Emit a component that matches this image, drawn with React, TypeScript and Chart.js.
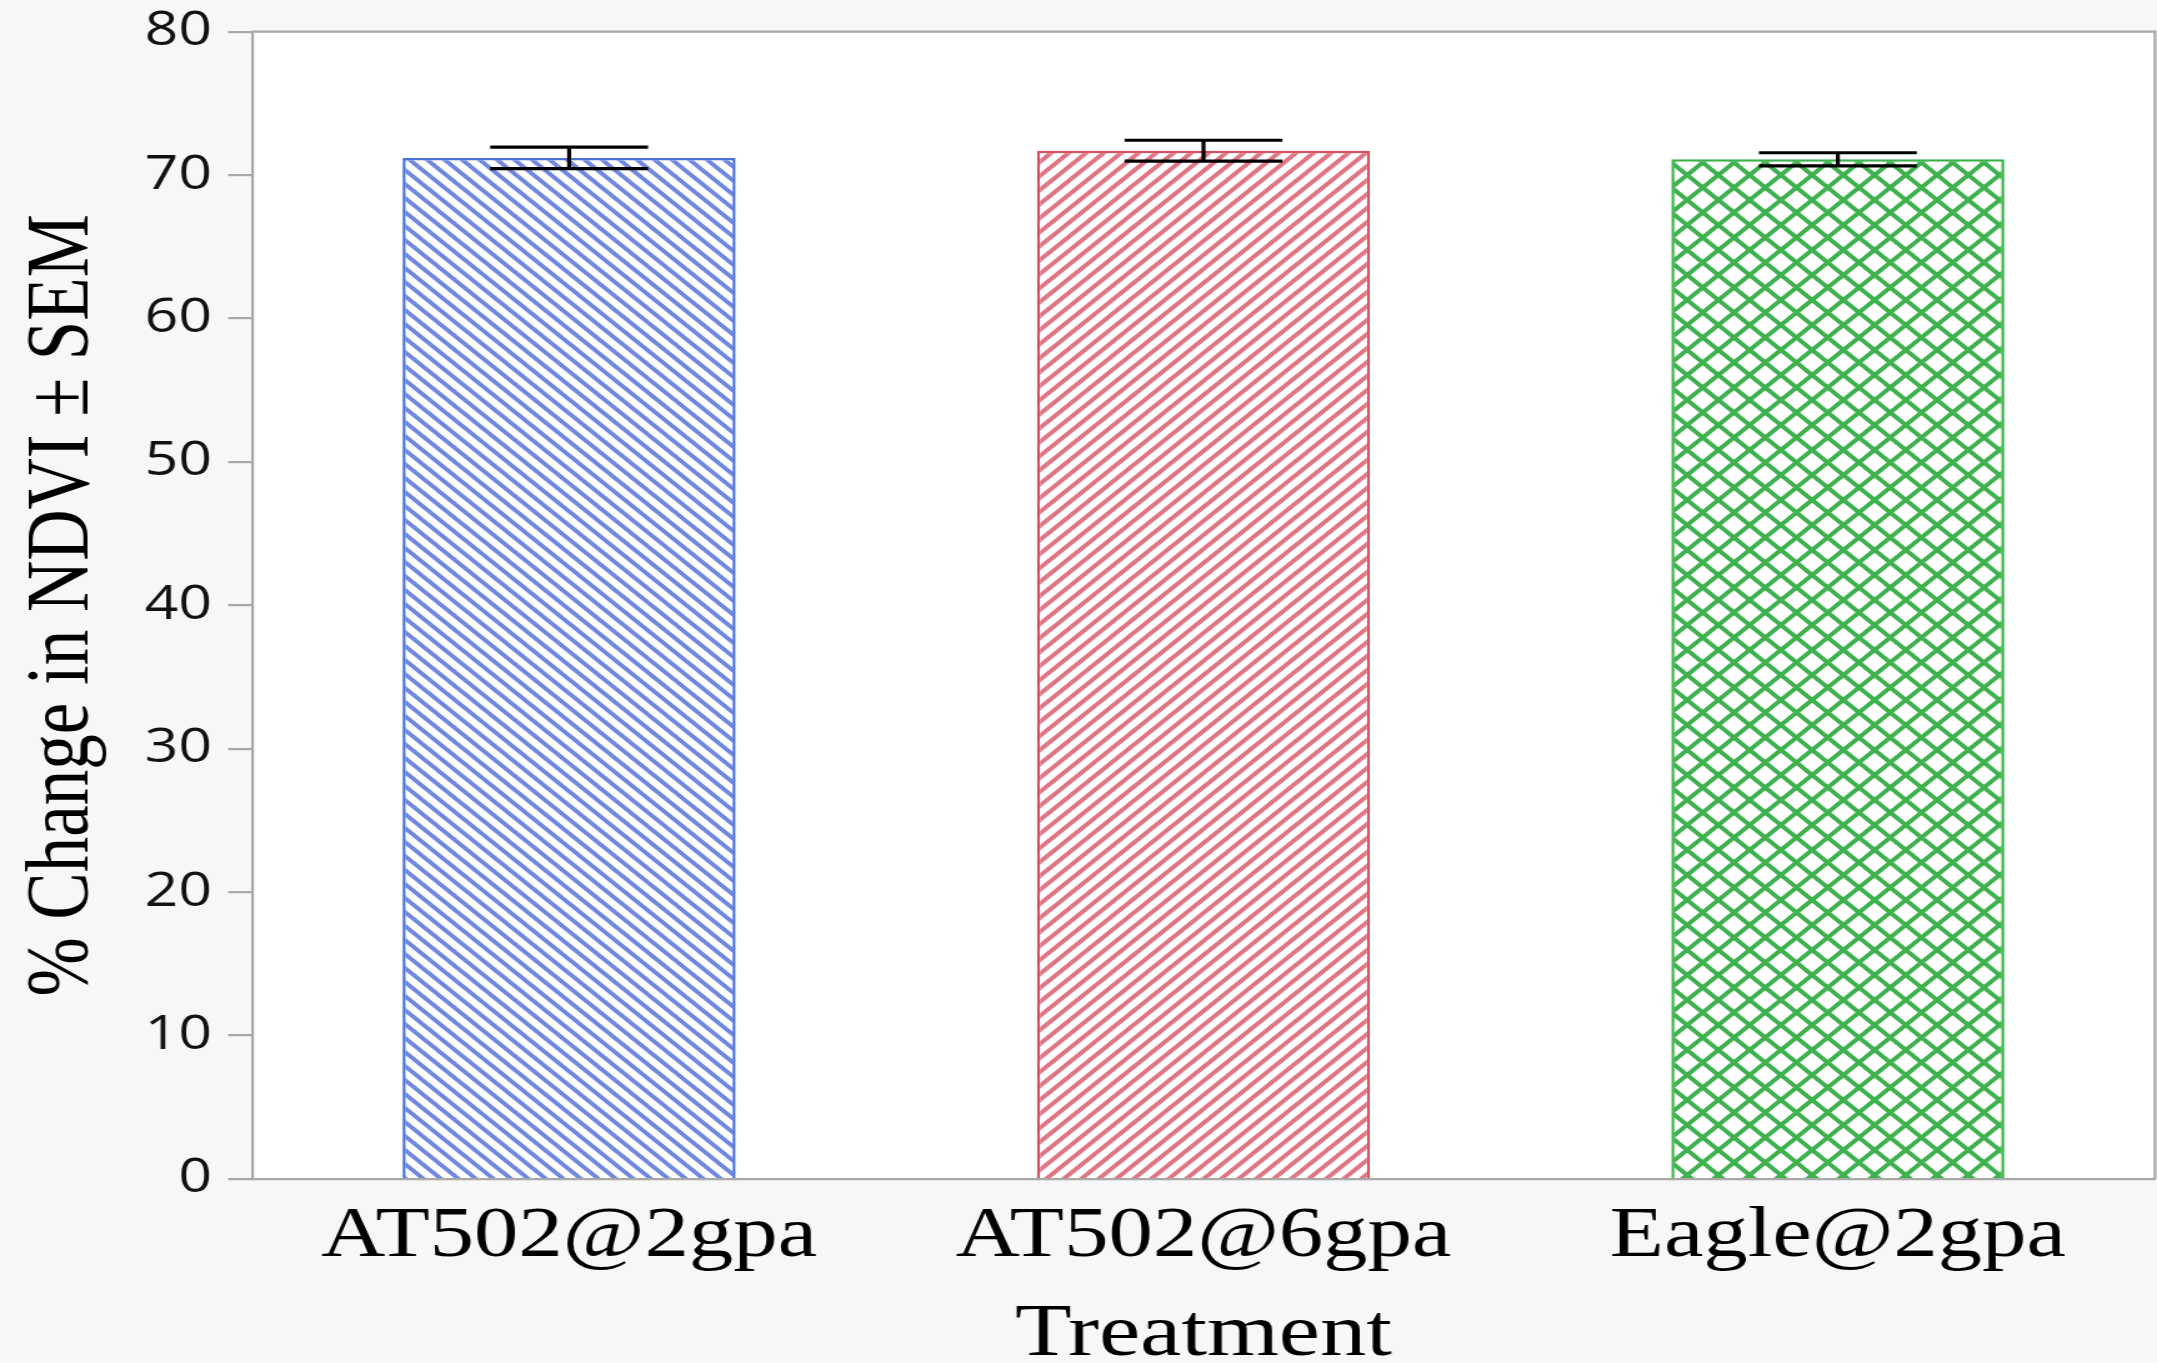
import React, { useEffect, useRef } from 'react';
import { Chart, registerables } from 'chart.js';

Chart.register(...registerables);

// ---- data ----
const categories = ['AT502@2gpa', 'AT502@6gpa', 'Eagle@2gpa'];
const meanChange = [71.2, 71.7, 71.1];
const semValues = [0.75, 0.73, 0.46];
const yMin = 0;
const yMax = 80;
const yStep = 10;
const yAxisTitle = '% Change in NDVI ± SEM';
const xAxisTitle = 'Treatment';

// ---- styles ----
const borderColors = ['#4a72d8', '#d6505f', '#3cb34a'];
const hatchColors = ['#7088e0', '#e07684', '#3fb24f'];
const hatchKinds = ['back', 'fwd', 'cross'];
const hatchPeriods = [14, 14, 25];
const hatchWidths = [3.8, 4, 4];

const FULL_W = 2157;
const FULL_H = 1363;
const INNER_W = 1726;
const SX = FULL_W / INNER_W;
const AXIS_GRAY = '#a8a8a8';

function makeHatch(kind: string, color: string, P: number, w: number) {
  const c = document.createElement('canvas');
  c.width = P;
  c.height = P;
  const g = c.getContext('2d') as CanvasRenderingContext2D;
  g.fillStyle = '#ffffff';
  g.fillRect(0, 0, P, P);
  g.strokeStyle = color;
  g.lineWidth = w;
  g.beginPath();
  if (kind === 'back' || kind === 'cross') {
    for (let k = -1; k <= 1; k++) {
      g.moveTo(-2, -2 + k * P);
      g.lineTo(P + 2, P + 2 + k * P);
    }
  }
  if (kind === 'fwd' || kind === 'cross') {
    for (let k = 0; k <= 2; k++) {
      g.moveTo(-2, k * P + 2);
      g.lineTo(P + 2, k * P - P - 2);
    }
  }
  g.stroke();
  return g.createPattern(c, 'repeat') as CanvasPattern;
}

const framePlugin = {
  id: 'frameAndErrors',
  beforeDraw(chart: any) {
    const { ctx, chartArea: a } = chart;
    ctx.save();
    ctx.fillStyle = '#ffffff';
    ctx.fillRect(a.left, a.top, a.right - a.left, a.bottom - a.top);
    ctx.restore();
  },
  afterDatasetsDraw(chart: any) {
    const { ctx } = chart;
    const yScale = chart.scales.y;
    const meta = chart.getDatasetMeta(0);
    ctx.save();
    ctx.strokeStyle = '#000000';
    ctx.lineWidth = 3.2;
    meta.data.forEach((bar: any, i: number) => {
      const { x, width } = bar.getProps(['x', 'width'], true);
      const top = yScale.getPixelForValue(meanChange[i] + semValues[i]);
      const bot = yScale.getPixelForValue(meanChange[i] - semValues[i]);
      const hw = width * 0.237;
      ctx.beginPath();
      ctx.moveTo(x - hw, top);
      ctx.lineTo(x + hw, top);
      ctx.moveTo(x - hw, bot);
      ctx.lineTo(x + hw, bot);
      ctx.moveTo(x, top);
      ctx.lineTo(x, bot);
      ctx.stroke();
    });
    ctx.restore();
  },
  afterDraw(chart: any) {
    const { ctx, chartArea: a } = chart;
    ctx.save();
    ctx.strokeStyle = AXIS_GRAY;
    ctx.lineWidth = 2.2;
    ctx.beginPath();
    ctx.moveTo(a.left, a.top);
    ctx.lineTo(a.right, a.top);
    ctx.lineTo(a.right, a.bottom);
    ctx.stroke();
    ctx.restore();
  },
};

export default function App() {
  const canvasRef = useRef<HTMLCanvasElement | null>(null);

  useEffect(() => {
    const canvas = canvasRef.current;
    if (!canvas) return;
    const patterns = categories.map((_, i) =>
      makeHatch(hatchKinds[i], hatchColors[i], hatchPeriods[i], hatchWidths[i])
    );
    const chart = new Chart(canvas, {
      type: 'bar',
      data: {
        labels: categories,
        datasets: [
          {
            data: meanChange,
            backgroundColor: patterns,
            borderColor: borderColors,
            borderWidth: 2.5,
            barPercentage: 0.525,
            categoryPercentage: 1,
          },
        ],
      },
      options: {
        responsive: false,
        animation: false,
        devicePixelRatio: 1,
        layout: { padding: { top: 31.7, right: 1.6, left: 0, bottom: 0 } },
        plugins: {
          legend: { display: false },
          tooltip: { enabled: false },
        },
        scales: {
          x: {
            z: 1,
            ticks: {
              color: '#000000',
              font: { family: '"Liberation Serif", serif', size: 71 },
              padding: 16,
            },
            grid: { display: false, drawTicks: false },
            border: { display: true, color: AXIS_GRAY, width: 2.2 },
            title: {
              display: true,
              text: xAxisTitle,
              color: '#000000',
              font: { family: '"Liberation Serif", serif', size: 74, lineHeight: 0.8 },
              padding: { top: 0, bottom: -2 },
            },
            afterFit(scale: any) {
              scale.height = 184;
            },
          },
          y: {
            min: yMin,
            max: yMax,
            ticks: {
              stepSize: yStep,
              color: '#111111',
              font: { family: '"Open Sans", sans-serif', size: 47, lineHeight: 0.6 },
              padding: 13,
            },
            grid: {
              drawOnChartArea: false,
              drawTicks: true,
              tickLength: 19,
              color: AXIS_GRAY,
              lineWidth: 2.2,
            },
            border: { display: true, color: AXIS_GRAY, width: 2.2 },
            title: {
              display: true,
              text: yAxisTitle,
              color: '#000000',
              font: { family: '"Liberation Serif", serif', size: 71, lineHeight: 1.2 },
              padding: { top: 9, bottom: 0 },
            },
            afterFit(scale: any) {
              scale.width = 201.6;
              scale.paddingTop = 0;
              scale.paddingBottom = 0;
            },
          },
        },
      } as any,
      plugins: [framePlugin],
    });
    return () => chart.destroy();
  }, []);

  return (
    <div
      style={{
        position: 'fixed',
        left: 0,
        top: 0,
        width: FULL_W,
        height: FULL_H,
        background: '#f7f7f7',
        overflow: 'hidden',
      }}
    >
      <div
        style={{
          width: INNER_W,
          height: FULL_H,
          transform: `scaleX(${SX})`,
          transformOrigin: '0 0',
        }}
      >
        <canvas ref={canvasRef} width={INNER_W} height={FULL_H} style={{ display: 'block' }} />
      </div>
    </div>
  );
}
